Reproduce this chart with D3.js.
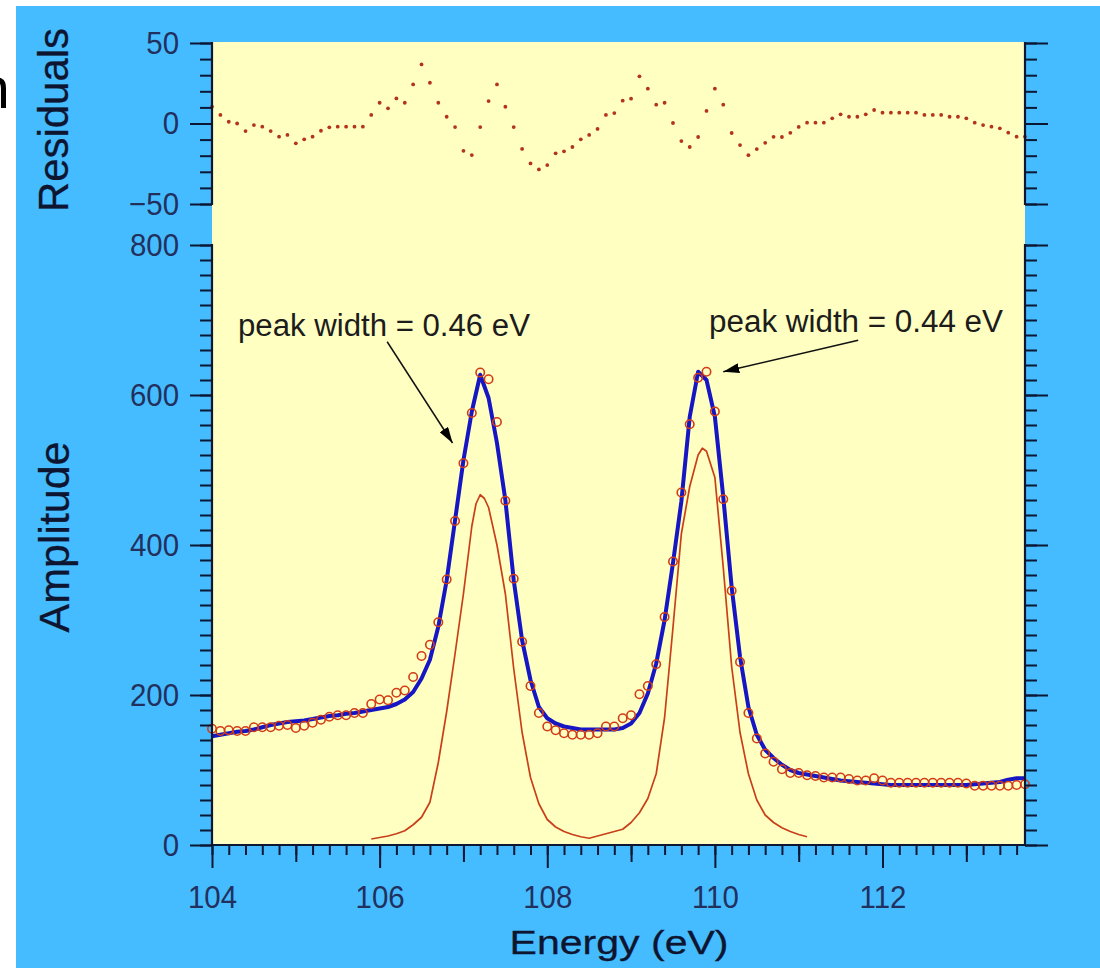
<!DOCTYPE html>
<html>
<head>
<meta charset="utf-8">
<script src="https://cdn.jsdelivr.net/npm/d3@7"></script>
<style>
  html, body { margin: 0; padding: 0; background: #ffffff; }
  svg { display: block; }
  text { font-family: "Liberation Sans", Arial, Helvetica, sans-serif; }
</style>
</head>
<body>
<svg id="chart" width="1100" height="968"></svg>
<script>
// Measured spectrum: energy grid (eV), raw counts, fitted envelope and residuals
const energy = [
  104.0,104.1,104.2,104.3,104.4,104.5,104.6,104.7,104.8,104.9,
  105.0,105.1,105.2,105.3,105.4,105.5,105.6,105.7,105.8,105.9,
  106.0,106.1,106.2,106.3,106.4,106.5,106.6,106.7,106.8,106.9,
  107.0,107.1,107.2,107.3,107.4,107.5,107.6,107.7,107.8,107.9,
  108.0,108.1,108.2,108.3,108.4,108.5,108.6,108.7,108.8,108.9,
  109.0,109.1,109.2,109.3,109.4,109.5,109.6,109.7,109.8,109.9,
  110.0,110.1,110.2,110.3,110.4,110.5,110.6,110.7,110.8,110.9,
  111.0,111.1,111.2,111.3,111.4,111.5,111.6,111.7,111.8,111.9,
  112.0,112.1,112.2,112.3,112.4,112.5,112.6,112.7,112.8,112.9,
  113.0,113.1,113.2,113.3,113.4,113.5,113.6,113.7
];

const measured = [
  155,152,153,152,152,157,157,157,159,160,
  156,159,163,167,171,173,173,176,176,188,
  194,193,203,206,224,252,267,297,354,432,
  509,576,630,621,564,459,355,271,212,176,
  158,153,149,147,147,147,149,158,158,169,
  173,201,212,241,304,378,470,561,623,631,
  578,461,339,244,176,142,122,111,101,96,
  96,93,92,90,90,90,88,86,86,89,
  86,83,83,83,83,83,83,83,83,83,
  82,79,79,79,79,79,80,81
];

const fitted = [
  145,147,149,151,152,154,157,160,162,164,
  165,166,168,170,172,173,175,176,178,180,
  182,184,188,194,204,222,247,291,353,433,
  513,578,627,596,536,460,353,273,220,184,
  169,162,158,156,154,154,154,154,154,156,
  162,176,202,242,300,376,458,571,631,620,
  571,464,344,251,184,147,127,116,107,100,
  96,94,92,90,88,86,85,84,83,82,
  81,80,80,80,80,80,80,80,80,80,
  80,81,82,83,84,87,89,89
];

const residuals = [
  10.4,5.3,1.1,0,-4.7,-1,-2,-4.7,-8.2,-7.1,
  -12.3,-9.8,-8.2,-4.5,-2.4,-2,-2,-2,-2,5.3,
  12.9,9.4,15.6,12.9,24.3,36.7,25.3,12.9,4.2,-2.2,
  -17,-19.6,-2.2,13.9,24.3,10.4,-2.2,-15.8,-24.8,-28.5,
  -25.8,-18.5,-17.3,-14.6,-9.8,-7.1,-3.4,5.3,6.5,14.2,
  15.4,29.3,21.6,11.7,12.9,0.3,-10.9,-14.6,-8.4,7.8,
  21.6,11.7,-5.9,-13.4,-19.7,-15.9,-12,-8.3,-8.4,-5.8,
  -2.1,0.5,0.5,0.5,3.2,5.7,4.2,4.2,5.7,8.4,
  6.7,6.7,6.7,6.7,6.7,5.3,5.3,5.3,4.2,4.2,
  3.2,0.5,-1,-2,-3,-5.7,-8.2,-8.2
];

// Sum of the two fitted peak components (without background)
const componentEnergy = [
  105.9,106.0,106.1,106.2,106.3,106.4,106.5,106.6,106.7,106.8,106.9,
  107.0,107.1,107.15,107.2,107.25,107.3,107.4,107.5,107.6,107.7,107.8,107.9,
  108.0,108.1,108.2,108.3,108.4,108.5,108.6,108.7,108.8,108.9,
  109.0,109.1,109.2,109.3,109.4,109.5,109.6,109.7,109.8,109.85,109.9,
  110.0,110.1,110.2,110.3,110.4,110.5,110.6,110.7,110.8,110.9,
  111.0,111.1
];
const componentValue = [
  8,10,12,15,19,27,37,57,110,178,255,
  335,425,455,467,462,450,400,335,235,150,90,55,
  34,24,18,14,11,9,12,15,18,21,
  30,43,62,95,170,290,415,478,520,529,525,
  490,370,238,150,95,60,40,30,23,18,
  14,11
];

// Axis ticks
const xLabelTicks = [104, 106, 108, 110, 112];
const xOddTicks = [105, 107, 109, 111, 113];
const resLabelTicks = [-50, 0, 50];
const ampLabelTicks = [0, 200, 400, 600, 800];

// Peak-width annotations: label anchor and arrow, in data units
const annotations = [
  { text: "peak width = 0.46 eV", tx: 104.31, ty: 679, x1: 106.09, y1: 671, x2: 106.87, y2: 536, width: 292 },
  { text: "peak width = 0.44 eV", tx: 109.93, ty: 684, x1: 111.71, y1: 673, x2: 110.10, y2: 631, width: 294 }
];

// ---------------- drawing ----------------
const svg = d3.select("#chart");
const W = 1100, H = 968;
const plot = { left: 212, right: 1025, resTop: 43, resBottom: 204, ampTop: 245, ampBottom: 845 };
const axisColor = "#0c1733";
const labelColor = "#22305e";

const x = d3.scaleLinear().domain([104, 113.7]).range([plot.left, plot.right]);
const yRes = d3.scaleLinear().domain([-50, 50]).range([plot.resBottom, plot.resTop]);
const yAmp = d3.scaleLinear().domain([0, 800]).range([plot.ampBottom, plot.ampTop]);

// page background
svg.append("rect").attr("width", W).attr("height", H).attr("fill", "#ffffff");
svg.append("rect").attr("x", 16).attr("y", 6).attr("width", W - 16).attr("height", H - 6).attr("fill", "#45bcff");

// clipped title fragment at the left edge
svg.append("text").attr("x", -22).attr("y", 108).attr("font-size", 57).attr("fill", "#000").text("n");

// plotting surface
svg.append("rect")
  .attr("x", plot.left).attr("y", plot.resTop - 1)
  .attr("width", plot.right - plot.left).attr("height", plot.ampBottom - plot.resTop + 1)
  .attr("fill", "#ffffc2");

function styleAxis(g, withLabels) {
  g.selectAll(".tick line").attr("stroke", axisColor).attr("stroke-width", 2);
  g.select(".domain").remove();
  if (withLabels) {
    g.selectAll(".tick text")
      .attr("fill", labelColor)
      .attr("font-size", 32)
      .attr("font-family", "'Liberation Sans', Arial, sans-serif")
      .attr("transform", function () {
        // slightly condensed digits
        const t = d3.select(this);
        const xx = +t.attr("x") || 0;
        return `translate(${xx * 0.08},0) scale(0.92,1)`;
      });
  } else {
    g.selectAll(".tick text").remove();
  }
}

function verticalAxes(scale, labelTicks, minorStep) {
  const [lo, hi] = scale.domain();
  const minor = d3.range(lo, hi + minorStep / 2, minorStep);
  // left side
  const gl = svg.append("g").attr("transform", `translate(${plot.left},0)`);
  gl.append("g").call(d3.axisLeft(scale).tickValues(minor).tickSize(12).tickSizeOuter(0))
    .call(g => styleAxis(g, false));
  gl.append("g").call(d3.axisLeft(scale).tickValues(labelTicks).tickSize(22).tickPadding(11).tickSizeOuter(0))
    .call(g => styleAxis(g, true));
  gl.append("line").attr("x1", 0).attr("x2", 0)
    .attr("y1", scale.range()[1] - 1).attr("y2", scale.range()[0] + 1)
    .attr("stroke", axisColor).attr("stroke-width", 2.2);
  // right side
  const gr = svg.append("g").attr("transform", `translate(${plot.right},0)`);
  gr.append("g").call(d3.axisRight(scale).tickValues(minor).tickSize(12).tickSizeOuter(0))
    .call(g => styleAxis(g, false));
  gr.append("g").call(d3.axisRight(scale).tickValues(labelTicks).tickSize(23).tickSizeOuter(0))
    .call(g => styleAxis(g, false));
  gr.append("line").attr("x1", 0).attr("x2", 0)
    .attr("y1", scale.range()[1] - 1).attr("y2", scale.range()[0] + 1)
    .attr("stroke", axisColor).attr("stroke-width", 2.2);
}

// ---- residuals panel ----
svg.append("g").selectAll("circle")
  .data(energy.map((e, i) => [e, residuals[i]]))
  .join("circle")
  .attr("cx", d => x(d[0]))
  .attr("cy", d => yRes(d[1]))
  .attr("r", 1.9)
  .attr("fill", "#b3331b");

// ---- amplitude panel ----
const comp = d3.line().x((d, i) => x(componentEnergy[i])).y(d => yAmp(d));
svg.append("path")
  .attr("d", comp(componentValue))
  .attr("fill", "none")
  .attr("stroke", "#c8401a")
  .attr("stroke-width", 1.7)
  .attr("stroke-linejoin", "round");

const fitLine = d3.line().x((d, i) => x(energy[i])).y(d => yAmp(d));
svg.append("path")
  .attr("d", fitLine(fitted))
  .attr("fill", "none")
  .attr("stroke", "#1616c4")
  .attr("stroke-width", 4)
  .attr("stroke-linejoin", "round");

svg.append("g").selectAll("circle")
  .data(energy.map((e, i) => [e, measured[i]]))
  .join("circle")
  .attr("cx", d => x(d[0]))
  .attr("cy", d => yAmp(d[1]))
  .attr("r", 4.2)
  .attr("fill", "none")
  .attr("stroke", "#d23c16")
  .attr("stroke-width", 1.6);

// ---- axes ----
verticalAxes(yRes, resLabelTicks, 10);
verticalAxes(yAmp, ampLabelTicks, 20);

const xMinor = d3.range(104, 113.65, 0.2);
const gx = svg.append("g").attr("transform", `translate(0,${plot.ampBottom})`);
gx.append("g").call(d3.axisBottom(x).tickValues(xMinor).tickSize(10).tickSizeOuter(0)).call(g => styleAxis(g, false));
gx.append("g").call(d3.axisBottom(x).tickValues(xOddTicks).tickSize(17).tickSizeOuter(0)).call(g => styleAxis(g, false));
gx.append("g").call(d3.axisBottom(x).tickValues(xLabelTicks).tickFormat(d3.format("d")).tickSize(23).tickPadding(17).tickSizeOuter(0))
  .call(g => styleAxis(g, true));
gx.append("line").attr("x1", plot.left - 1).attr("x2", plot.right + 1).attr("y1", 0).attr("y2", 0)
  .attr("stroke", axisColor).attr("stroke-width", 2.2);

// ---- axis titles ----
const titleColor = "#0e1530";
function axisTitle(sel) {
  return sel.attr("fill", titleColor)
    .attr("stroke", titleColor).attr("stroke-width", 0.3)
    .attr("lengthAdjust", "spacingAndGlyphs")
    .attr("text-anchor", "middle");
}

svg.append("text")
  .attr("transform", `translate(68,120) rotate(-90)`)
  .attr("font-size", 42)
  .attr("textLength", 184)
  .call(axisTitle)
  .text("Residuals");

svg.append("text")
  .attr("transform", `translate(69,537) rotate(-90)`)
  .attr("font-size", 42)
  .attr("textLength", 191)
  .call(axisTitle)
  .text("Amplitude");

svg.append("text")
  .attr("x", 619).attr("y", 954)
  .attr("font-size", 34)
  .attr("textLength", 219)
  .call(axisTitle)
  .text("Energy (eV)");

// ---- annotations ----
svg.append("defs").append("marker")
  .attr("id", "head")
  .attr("viewBox", "0 0 16 10")
  .attr("refX", 16).attr("refY", 5)
  .attr("markerWidth", 16).attr("markerHeight", 10)
  .attr("markerUnits", "userSpaceOnUse")
  .attr("orient", "auto")
  .append("path").attr("d", "M0,0 L16,5 L0,10 Z").attr("fill", "#000");

const ann = svg.append("g");
annotations.forEach(a => {
  ann.append("text")
    .attr("x", x(a.tx)).attr("y", yAmp(a.ty))
    .attr("font-size", 31)
    .attr("fill", "#1c1c1c")
    .attr("textLength", a.width).attr("lengthAdjust", "spacingAndGlyphs")
    .text(a.text);
  ann.append("line")
    .attr("x1", x(a.x1)).attr("y1", yAmp(a.y1))
    .attr("x2", x(a.x2)).attr("y2", yAmp(a.y2))
    .attr("stroke", "#111").attr("stroke-width", 1.5)
    .attr("marker-end", "url(#head)");
});
</script>
</body>
</html>
